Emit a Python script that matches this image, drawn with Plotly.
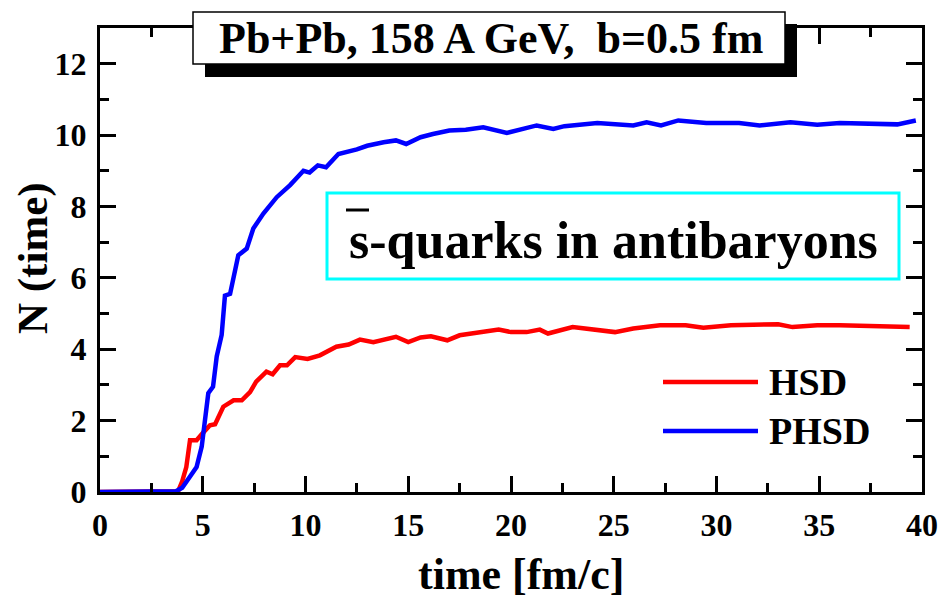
import plotly.graph_objects as go

# ---- data ----
t_hsd = [0, 1, 2, 3, 3.5, 3.8, 4.0, 4.2, 4.38, 4.7, 5.0, 5.35, 5.6, 6.0, 6.5, 6.9, 7.3, 7.6,
         8.1, 8.4, 8.76, 9.1, 9.5, 10.1, 10.7, 11.5, 12.1, 12.65, 13.3, 14.4, 15.0, 15.6,
         16.1, 16.9, 17.5, 18.5, 19.4, 20.0, 20.76, 21.4, 21.8, 23.0, 24.3, 25.06, 25.95,
         27.25, 28.5, 29.36, 30.7, 32.0, 33.0, 33.7, 34.9, 36.0, 37.6, 39.4]
n_hsd = [0, 0, 0, 0, 0, 0.02, 0.3, 0.7, 1.45, 1.45, 1.65, 1.87, 1.9, 2.39, 2.57, 2.57, 2.8, 3.09,
         3.37, 3.3, 3.55, 3.55, 3.78, 3.73, 3.83, 4.07, 4.13, 4.27, 4.2, 4.35, 4.2, 4.33,
         4.36, 4.25, 4.39, 4.48, 4.55, 4.48, 4.48, 4.55, 4.44, 4.62, 4.55, 4.48, 4.58,
         4.67, 4.67, 4.6, 4.67, 4.67, 4.7, 4.62, 4.67, 4.67, 4.64, 4.62]

t_phsd = [0, 1, 2, 3, 3.5, 3.7, 4.0, 4.38, 4.7, 4.95, 5.1, 5.27, 5.5, 5.68, 5.92, 6.08, 6.33,
          6.73, 7.14, 7.46, 7.95, 8.6, 9.25, 9.9, 10.2, 10.6, 11.0, 11.6, 12.5, 13.0, 13.8,
          14.4, 14.9, 15.6, 16.2, 17.0, 17.8, 18.65, 19.8, 21.25, 22.06, 22.6, 24.2, 25.95,
          26.6, 27.3, 28.14, 29.5, 31.1, 32.1, 33.6, 34.9, 36.0, 38.8, 39.7]
n_phsd = [0, 0, 0, 0, 0, 0.02, 0.12, 0.43, 0.7, 1.27, 1.93, 2.77, 2.95, 3.8, 4.4, 5.5, 5.55,
          6.63, 6.82, 7.38, 7.8, 8.26, 8.6, 9.0, 8.95, 9.15, 9.1, 9.47, 9.6, 9.7, 9.8,
          9.85, 9.75, 9.94, 10.03, 10.13, 10.15, 10.22, 10.06, 10.27, 10.17, 10.25, 10.34, 10.27,
          10.36, 10.27, 10.41, 10.34, 10.34, 10.27, 10.36, 10.29, 10.34, 10.3, 10.41]

series_names = ["HSD", "PHSD"]
series_colors = ["#ff0000", "#0000ff"]
x_ticks = [0, 5, 10, 15, 20, 25, 30, 35, 40]
y_ticks = [0, 2, 4, 6, 8, 10, 12]
title_text = "Pb+Pb, 158 A GeV,\u00a0 b=0.5 fm"
box_text = "s-quarks in antibaryons"
x_title = "time [fm/c]"
y_title = "N (time)"

FONT = "Liberation Serif"

# plot area in pixels
L, R, T, B = 100, 922, 28, 492
W, H = 939, 599


def px(x):
    return (x - L) / (R - L)


def py(y):
    return (B - y) / (B - T)


fig = go.Figure()
fig.add_trace(go.Scatter(x=t_hsd, y=n_hsd, mode="lines", name=series_names[0],
                         line=dict(color=series_colors[0], width=4.5), showlegend=False))
fig.add_trace(go.Scatter(x=t_phsd, y=n_phsd, mode="lines", name=series_names[1],
                         line=dict(color=series_colors[1], width=4.5), showlegend=False))

axis_common = dict(
    showgrid=False, zeroline=False, showline=True, linecolor="black", linewidth=3,
    mirror="allticks", ticks="inside", tickcolor="black", tickwidth=3, ticklen=16,
    automargin=False,
    tickfont=dict(family=FONT, size=32, color="black", weight="bold"),
)
fig.update_xaxes(range=[0, 40], tickvals=x_ticks, ticktext=[str(v) for v in x_ticks],
                 minor=dict(dtick=2.5, ticks="inside", ticklen=9, tickwidth=3, tickcolor="black"),
                 ticklabelstandoff=3, **axis_common)
fig.update_yaxes(range=[0, 13], tickvals=y_ticks, ticktext=[str(v) for v in y_ticks],
                 minor=dict(dtick=1, ticks="inside", ticklen=9, tickwidth=3, tickcolor="black"),
                 ticklabelstandoff=4, **axis_common)

shapes = []
annotations = []

# title box with shadow
shapes.append(dict(type="rect", xref="paper", yref="paper", layer="above",
                   x0=px(205), x1=px(797), y0=py(77), y1=py(24),
                   fillcolor="black", line=dict(width=0)))
shapes.append(dict(type="rect", xref="paper", yref="paper", layer="above",
                   x0=px(193), x1=px(785), y0=py(64), y1=py(12),
                   fillcolor="white", line=dict(color="black", width=1.5)))
annotations.append(dict(xref="paper", yref="paper", x=px(491), y=py(38), text=title_text,
                        showarrow=False, xanchor="center", yanchor="middle",
                        font=dict(family=FONT, size=44, color="black", weight="bold")))

# cyan label box
shapes.append(dict(type="rect", xref="paper", yref="paper", layer="above",
                   x0=px(327), x1=px(899), y0=py(279), y1=py(193),
                   fillcolor="white", line=dict(color="#00ffff", width=3)))
annotations.append(dict(xref="paper", yref="paper", x=px(613), y=py(240), text=box_text,
                        showarrow=False, xanchor="center", yanchor="middle",
                        font=dict(family=FONT, size=52, color="black", weight="bold")))
shapes.append(dict(type="line", xref="paper", yref="paper", layer="above",
                   x0=px(346), x1=px(369), y0=py(210), y1=py(210),
                   line=dict(color="black", width=3)))

# legend
leg_y = [382, 431]
for name, col, yy in zip(series_names, series_colors, leg_y):
    shapes.append(dict(type="line", xref="paper", yref="paper", layer="above",
                       x0=px(663), x1=px(758), y0=py(yy), y1=py(yy),
                       line=dict(color=col, width=4.5)))
    annotations.append(dict(xref="paper", yref="paper", x=px(767), y=py(yy), text=name,
                            showarrow=False, xanchor="left", yanchor="middle",
                            font=dict(family=FONT, size=38, color="black", weight="bold")))

# axis titles
annotations.append(dict(xref="paper", yref="paper", x=px(521), y=py(574), text=x_title,
                        showarrow=False, xanchor="center", yanchor="middle",
                        font=dict(family=FONT, size=44, color="black", weight="bold")))
annotations.append(dict(xref="paper", yref="paper", x=px(33), y=py(258), text=y_title,
                        showarrow=False, xanchor="center", yanchor="middle", textangle=-90,
                        font=dict(family=FONT, size=43, color="black", weight="bold")))

fig.update_layout(
    width=W, height=H,
    margin=dict(l=L, r=W - R, t=T, b=H - B, pad=0),
    paper_bgcolor="white", plot_bgcolor="white",
    shapes=shapes, annotations=annotations, showlegend=False,
)

fig.write_html("out.html")
